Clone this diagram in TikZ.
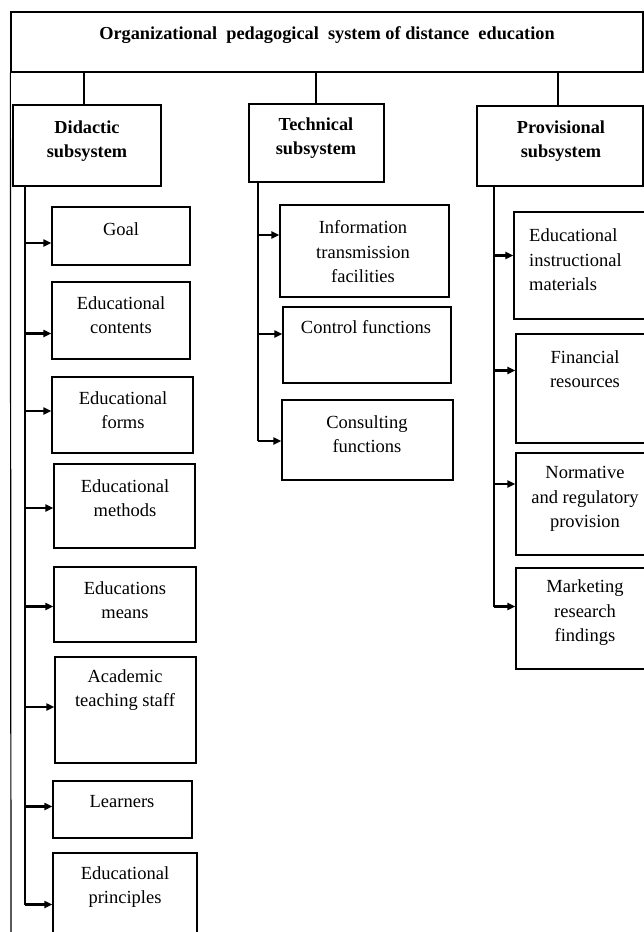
\documentclass[tikz,border=0pt]{standalone}
\usepackage{fontspec}
\setmainfont{Liberation Serif}
\usetikzlibrary{arrows.meta,calc}
\newcommand\mybox[5]{\node[box, minimum width={(#4-#2)*1pt}, minimum height={(#5-#3)*1pt}] (#1) at ({(#2+#4)/2},{(#3+#5)/2}) {};}
\begin{document}
\begin{tikzpicture}[x=1pt,y=-1pt,
 box/.style={draw, line width=1.3pt, inner sep=0pt, anchor=center},
 lbl/.style={font=\fontsize{18.5}{24.5}\selectfont, align=center, inner sep=0pt},
 blbl/.style={font=\fontsize{18.3}{24.5}\selectfont\bfseries, align=center, inner sep=0pt},
 link/.style={line width=1.2pt},
 spine/.style={line width=1.6pt},
 arr/.style={line width=2.1pt, -{Triangle[length=8pt,width=7pt]}}]
\path[use as bounding box] (0,0) rectangle (644,932);
\clip (0,0) rectangle (644,932);
% boxes
\mybox{top}{11}{12}{643}{72}
\mybox{did}{13}{105}{161}{186}
\mybox{tec}{249}{104}{384}{182}
\mybox{pro}{477}{106}{643}{186}
\mybox{g1}{52}{207}{190}{265}
\mybox{g2}{52}{282}{190}{359}
\mybox{g3}{52}{377}{193}{453}
\mybox{g4}{54}{464}{195}{548}
\mybox{g5}{54}{567}{196}{642}
\mybox{g6}{55}{657}{196}{763}
\mybox{g7}{53}{781}{192}{838}
\mybox{g8}{53}{853}{197}{950}
\mybox{t1}{280}{205}{449}{297}
\mybox{t2}{283}{307}{451}{383}
\mybox{t3}{282}{400}{453}{480}
\mybox{p1}{514}{212}{660}{319}
\mybox{p2}{516}{334}{660}{443}
\mybox{p3}{516}{453}{660}{555}
\mybox{p4}{516}{568}{660}{669}
% labels
\node[blbl] (ltop) at (327,35) {Organizational\ \ pedagogical\ \ system of distance\ \ education};
\node[blbl] (ldid) at (87,141) {Didactic\\subsystem};
\node[blbl] (ltec) at (316,138) {Technical\\subsystem};
\node[blbl] (lpro) at (561,141) {Provisional\\subsystem};
\node[lbl] (lg1) at (121,229) {Goal};
\node[lbl] (lg2) at (121,315) {Educational\\contents};
\node[lbl] (lg3) at (123,410) {Educational\\forms};
\node[lbl] (lg4) at (125,498) {Educational\\methods};
\node[lbl] (lg5) at (125,600) {Educations\\means};
\node[lbl] (lg6) at (125,690) {Academic\\teaching staff};
\node[lbl] (lg7) at (122,802) {Learners};
\node[lbl] (lg8) at (125,887) {Educational\\principles};
\node[lbl] (lt1) at (363,252) {Information\\transmission\\facilities};
\node[lbl] (lt2) at (366,327) {Control functions};
\node[lbl] (lt3) at (367,434) {Consulting\\functions};
\node[lbl, anchor=west, align=left] (lp1) at (529,260) {Educational\\instructional\\materials};
\node[lbl] (lp2) at (585,369) {Financial\\resources};
\node[lbl] (lp3) at (585,499) {Normative\\and regulatory\\provision};
\node[lbl] (lp4) at (585,613) {Marketing\\research\\findings};
% connectors from top box
\coordinate (c1) at (84,0);
\coordinate (c2) at (316,0);
\coordinate (c3) at (558,0);
\draw[link] (top.south -| c1) -- (did.north -| c1);
\draw[link] (top.south -| c2) -- (tec.north -| c2);
\draw[link] (top.south -| c3) -- (pro.north -| c3);
% outer left line
\coordinate (bl) at (11,932);
\draw[link] (top.south west) -- (bl);
% spines
\coordinate (ds) at (25,0);
\coordinate (ts) at (258,0);
\coordinate (ps) at (494,0);
\coordinate (a1) at ($(g1.west)+(0,7)$);
\coordinate (a2) at ($(g2.west)+(0,13)$);
\coordinate (a3) at ($(g3.west)+(0,-4)$);
\coordinate (a4) at ($(g4.west)+(0,2)$);
\coordinate (a5) at ($(g5.west)+(0,2)$);
\coordinate (a6) at ($(g6.west)+(0,-3)$);
\coordinate (a7) at ($(g7.west)+(0,-3)$);
\coordinate (a8) at ($(g8.west)+(0,3)$);
\draw[spine] (did.south -| ds) -- (a8 -| ds);
\foreach \a in {a1,a2,a3,a4,a5,a6,a7,a8} \draw[arr] (\a -| ds) -- (\a);
\coordinate (b1) at ($(t1.west)+(0,-16)$);
\coordinate (b2) at ($(t2.west)+(0,-11)$);
\coordinate (b3) at ($(t3.west)+(0,1)$);
\draw[spine] (tec.south -| ts) -- (b3 -| ts);
\foreach \a in {b1,b2,b3} \draw[arr] (\a -| ts) -- (\a);
\coordinate (d1) at ($(p1.west)+(0,-10)$);
\coordinate (d2) at ($(p2.west)+(0,-18)$);
\coordinate (d3) at ($(p3.west)+(0,-20)$);
\coordinate (d4) at ($(p4.west)+(0,-12)$);
\draw[spine] (pro.south -| ps) -- (d4 -| ps);
\foreach \a in {d1,d2,d3,d4} \draw[arr] (\a -| ps) -- (\a);
\end{tikzpicture}
\end{document}
